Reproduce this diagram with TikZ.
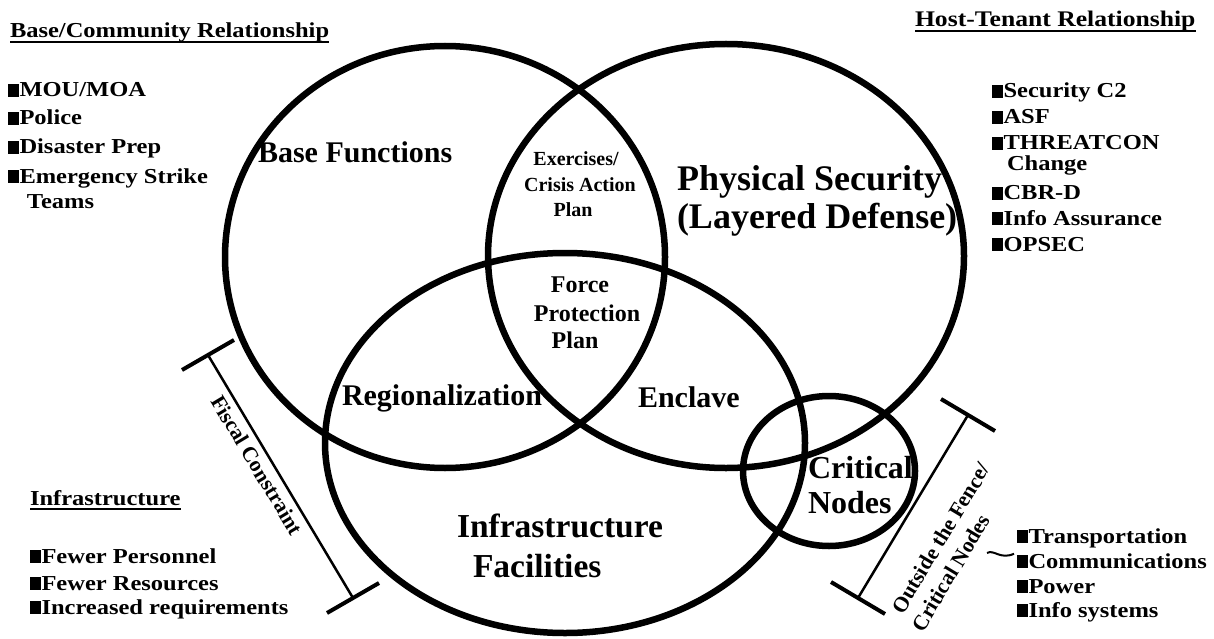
\documentclass[tikz,border=0pt]{standalone}
\usepackage{fontspec}
\setmainfont{Liberation Serif}[FakeStretch=1.15]
\newfontfamily\rotfont{Liberation Serif}[FakeStretch=1.0]
\newcommand\fsz[1]{\fontsize{#1}{#1}\selectfont}
\newcommand\bul{\rule{0.5em}{0.62em}\hspace{0.04em}}
\begin{document}
\begin{tikzpicture}[x=1pt,y=-1pt,
  ring/.style={line width=6.5pt},
  bracket/.style={line width=2.5pt},
  capline/.style={line width=4pt},
  uline/.style={line width=2.6pt},
  txt/.style={inner sep=0pt, outer sep=0pt, anchor=base west, font=\bfseries\fsz{21.3}},
  ctxt/.style={inner sep=0pt, outer sep=0pt, anchor=base, font=\rotfont\bfseries\fsz{#1}},
  big/.style={inner sep=0pt, outer sep=0pt, anchor=base west, font=\rotfont\bfseries\fsz{#1}},
  rot/.style={inner sep=0pt, outer sep=0pt, anchor=base west, font=\rotfont\bfseries\fsz{21.5}}
]
\fill[white] (0,0) rectangle (1214,639);
\useasboundingbox (0,0) rectangle (1214,639);

% circles
\draw[ring] (445,257) ellipse [x radius=220pt, y radius=211pt];
\draw[ring] (726,256) ellipse [x radius=238pt, y radius=212pt];
\draw[ring] (565,443) ellipse [x radius=240pt, y radius=190pt];
\draw[ring] (829,471) ellipse [x radius=86pt, y radius=75pt];

% fiscal bracket
\coordinate (fa) at (208,355);
\coordinate (fb) at (353,598);
\draw[bracket] (fa) -- (fb);
\draw[capline] (182,370) -- (234,340);
\draw[capline] (327,613) -- (379,583);
\node[rot, rotate=-59] (fiscal) at (210,401) {Fiscal Constraint};

% fence bracket
\coordinate (ga) at (968,415);
\coordinate (gb) at (858,598);
\draw[bracket] (ga) -- (gb);
\draw[capline] (941,399) -- (995,431);
\draw[capline] (831,582) -- (885,614);
\node[rot, rotate=59] (fence1) at (903,615) {Outside the Fence/};
\node[rot, rotate=59] (fence2) at (923,633) {Critical Nodes};

% top-left
\node[txt] (bch) at (10,38) {Base/Community Relationship};
\draw[uline] ([yshift=-4pt]bch.base west) -- ([yshift=-4pt]bch.base east);
\node[txt] (b1) at (8,97) {\bul MOU/MOA};
\node[txt] (b2) at (8,125) {\bul Police};
\node[txt] (b3) at (8,154) {\bul Disaster Prep};
\node[txt] (b4) at (8,183) {\bul Emergency Strike};
\node[txt] (b5) at (27,208) {Teams};

% top-right
\node[txt, font=\bfseries\fsz{22.3}] (hth) at (915,27) {Host-Tenant Relationship};
\draw[uline] ([yshift=-4pt]hth.base west) -- ([yshift=-4pt]hth.base east);
\node[txt] (h1) at (992,98) {\bul Security C2};
\node[txt] (h2) at (992,124) {\bul ASF};
\node[txt] (h3) at (992,150) {\bul THREATCON};
\node[txt] (h3b) at (1007,171) {Change};
\node[txt] (h4) at (992,200) {\bul CBR-D};
\node[txt] (h5) at (992,225) {\bul Info Assurance};
\node[txt] (h6) at (992,251) {\bul OPSEC};

% bottom-left
\node[txt] (inh) at (30,505) {Infrastructure};
\draw[uline] ([yshift=-4pt]inh.base west) -- ([yshift=-4pt]inh.base east);
\node[txt] (i1) at (30,563) {\bul Fewer Personnel};
\node[txt] (i2) at (30,590) {\bul Fewer Resources};
\node[txt] (i3) at (30,614) {\bul Increased requirements};

% bottom-right
\node[txt] (c1) at (1017,543) {\bul Transportation};
\node[txt] (c2) at (1017,568) {\bul Communications};
\node[txt] (c3) at (1017,593) {\bul Power};
\node[txt] (c4) at (1017,617) {\bul Info systems};
\coordinate (t1) at (987,553);
\coordinate (t2) at ([xshift=-3pt,yshift=7pt]c2.west);
\draw[line width=2pt] (t1) .. controls (994,549) and (1000,560) .. (t2);

% circle labels
\node[big=30] (bf) at (258,163) {Base Functions};
\node[ctxt=20] (ex1) at (576,165) {Exercises/};
\node[ctxt=20] (ex2) at (580,191) {Crisis Action};
\node[ctxt=20] (ex3) at (573,216) {Plan};
\node[big=36] (ps1) at (677,190) {Physical Security};
\node[big=36] (ps2) at (677,228) {(Layered Defense)};
\node[ctxt=24] (fp1) at (580,292) {Force};
\node[ctxt=24] (fp2) at (587,321) {Protection};
\node[ctxt=24] (fp3) at (575,348) {Plan};
\node[big=30] (reg) at (342,405) {Regionalization};
\node[big=30] (enc) at (638,407) {Enclave};
\node[big=32] (cn1) at (808,478) {Critical};
\node[big=32] (cn2) at (808,513) {Nodes};
\node[big=33.5] (if1) at (457,537) {Infrastructure};
\node[big=33.5] (if2) at (473,577) {Facilities};
\end{tikzpicture}
\end{document}
